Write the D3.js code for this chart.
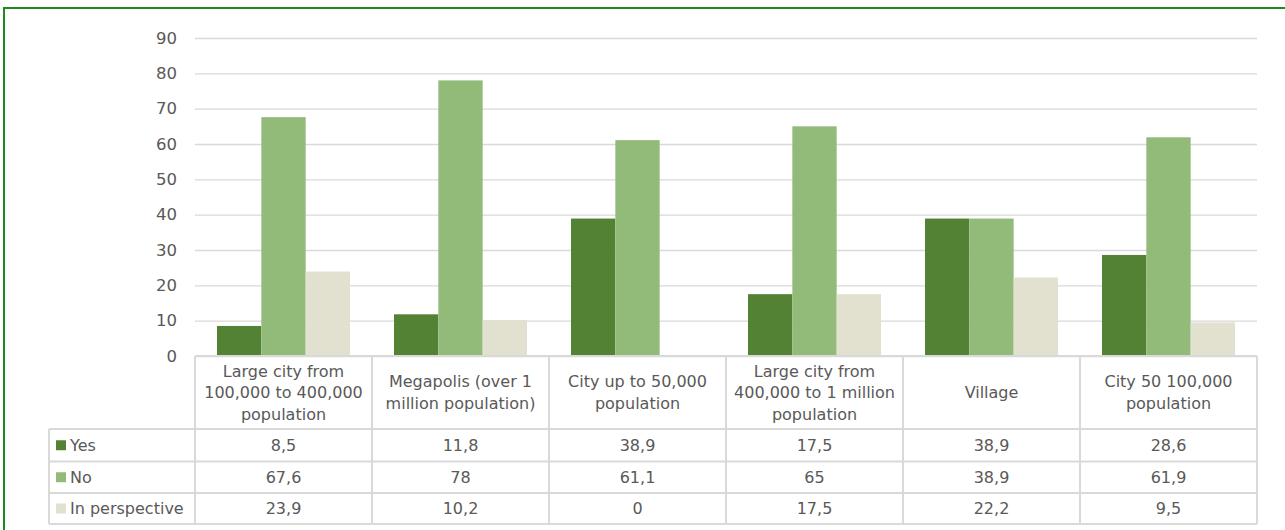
<!DOCTYPE html>
<html>
<head>
<meta charset="utf-8">
<script src="https://cdn.jsdelivr.net/npm/d3@7"></script>
<style>
  body { margin: 0; background: #fff; }
  svg text { font-family: "DejaVu Sans", Verdana, sans-serif; fill: #595959; }
</style>
</head>
<body>
<svg id="chart" width="1285" height="530"></svg>
<script>
const categories = [
  "Large city from 100,000 to 400,000 population",
  "Megapolis (over 1 million population)",
  "City up to 50,000 population",
  "Large city from 400,000 to 1 million population",
  "Village",
  "City 50 100,000 population"
];
const seriesNames = ["Yes", "No", "In perspective"];
const yesValues = [8.5, 11.8, 38.9, 17.5, 38.9, 28.6];
const noValues = [67.6, 78, 61.1, 65, 38.9, 61.9];
const perspectiveValues = [23.9, 10.2, 0, 17.5, 22.2, 9.5];
const yTicks = [0, 10, 20, 30, 40, 50, 60, 70, 80, 90];

const seriesValues = [yesValues, noValues, perspectiveValues];
const colors = ["#548235", "#92bb7a", "#e2e0cf"];
const gridColor = "#d9d9d9";

const svg = d3.select("#chart");

// outer green frame
svg.append("rect")
  .attr("x", 4).attr("y", 8)
  .attr("width", 1300).attr("height", 540)
  .attr("fill", "none")
  .attr("stroke", "#1e8a1e")
  .attr("stroke-width", 2);

const plotLeft = 195, plotRight = 1257;
const plotTop = 38, plotBottom = 356;

const x = d3.scaleBand()
  .domain(categories)
  .range([plotLeft, plotRight])
  .padding(0);

const xInner = d3.scaleBand()
  .domain(seriesNames)
  .range([22, x.bandwidth() - 22])
  .padding(0);

const y = d3.scaleLinear()
  .domain([0, 90])
  .range([plotBottom, plotTop]);

// gridlines + tick labels
const yAxis = d3.axisLeft(y)
  .tickValues(yTicks)
  .tickSize(-(plotRight - plotLeft))
  .tickPadding(18)
  .tickFormat(d3.format("d"));

const gAxis = svg.append("g")
  .attr("transform", `translate(${plotLeft},0)`)
  .call(yAxis);
gAxis.select(".domain").remove();
gAxis.selectAll(".tick line")
  .attr("stroke", gridColor)
  .attr("stroke-width", 1.3);
gAxis.selectAll(".tick text")
  .attr("font-size", 16.5)
  .attr("fill", "#595959");

// bars
const groups = svg.append("g").selectAll("g")
  .data(categories)
  .join("g")
  .attr("transform", d => `translate(${x(d)},0)`);

groups.selectAll("rect")
  .data((d, i) => seriesNames.map((s, j) => ({ s, v: seriesValues[j][i], j })))
  .join("rect")
  .attr("x", d => xInner(d.s))
  .attr("width", xInner.bandwidth())
  .attr("y", d => y(d.v))
  .attr("height", d => y(0) - y(d.v))
  .attr("fill", d => colors[d.j]);

// data table
const tableLeft = 49;
const headerBottom = 429;
const rowEdges = [headerBottom, 461.5, 493, 524];
const fmt = v => String(v).replace(".", ",");
const lineCol = "#d9d9d9";
const tbl = svg.append("g");

// horizontal lines
tbl.append("line")
  .attr("x1", plotLeft).attr("x2", plotRight)
  .attr("y1", plotBottom).attr("y2", plotBottom)
  .attr("stroke", lineCol).attr("stroke-width", 2);
rowEdges.forEach(ry => {
  tbl.append("line")
    .attr("x1", tableLeft).attr("x2", plotRight)
    .attr("y1", ry).attr("y2", ry)
    .attr("stroke", lineCol).attr("stroke-width", 2);
});
// vertical lines
tbl.append("line")
  .attr("x1", tableLeft).attr("x2", tableLeft)
  .attr("y1", headerBottom).attr("y2", rowEdges[3])
  .attr("stroke", lineCol).attr("stroke-width", 2);
categories.concat([null]).forEach(c => {
  const vx = c === null ? plotRight : x(c);
  tbl.append("line")
    .attr("x1", vx).attr("x2", vx)
    .attr("y1", plotBottom).attr("y2", rowEdges[3])
    .attr("stroke", lineCol).attr("stroke-width", 2);
});

// header labels, wrapped
function wrapLines(text, maxW) {
  const words = text.split(" ");
  const probe = svg.append("text").attr("font-size", 16);
  const lines = [];
  let cur = [];
  words.forEach(w => {
    const trial = cur.concat([w]).join(" ");
    probe.text(trial);
    if (cur.length && probe.node().getComputedTextLength() > maxW) {
      lines.push(cur.join(" "));
      cur = [w];
    } else {
      cur.push(w);
    }
  });
  lines.push(cur.join(" "));
  probe.remove();
  return lines;
}

const headerMid = (plotBottom + headerBottom) / 2;
const lineH = 21.5;
categories.forEach(c => {
  const lines = wrapLines(c, 170);
  const t = tbl.append("text")
    .attr("text-anchor", "middle")
    .attr("font-size", 16)
    .attr("x", x(c) + x.bandwidth() / 2);
  lines.forEach((ln, k) => {
    t.append("tspan")
      .attr("x", x(c) + x.bandwidth() / 2)
      .attr("y", headerMid + (k - (lines.length - 1) / 2) * lineH)
      .attr("dy", "0.35em")
      .text(ln);
  });
});

// rows
seriesNames.forEach((s, j) => {
  const mid = (rowEdges[j] + rowEdges[j + 1]) / 2;
  tbl.append("rect")
    .attr("x", 56).attr("y", mid - 5)
    .attr("width", 10).attr("height", 10)
    .attr("fill", colors[j]);
  tbl.append("text")
    .attr("x", 70).attr("y", mid).attr("dy", "0.35em")
    .attr("font-size", 16)
    .text(s);
  categories.forEach((c, i) => {
    tbl.append("text")
      .attr("x", x(c) + x.bandwidth() / 2)
      .attr("y", mid).attr("dy", "0.35em")
      .attr("text-anchor", "middle")
      .attr("font-size", 16)
      .text(fmt(seriesValues[j][i]));
  });
});
</script>
</body>
</html>
